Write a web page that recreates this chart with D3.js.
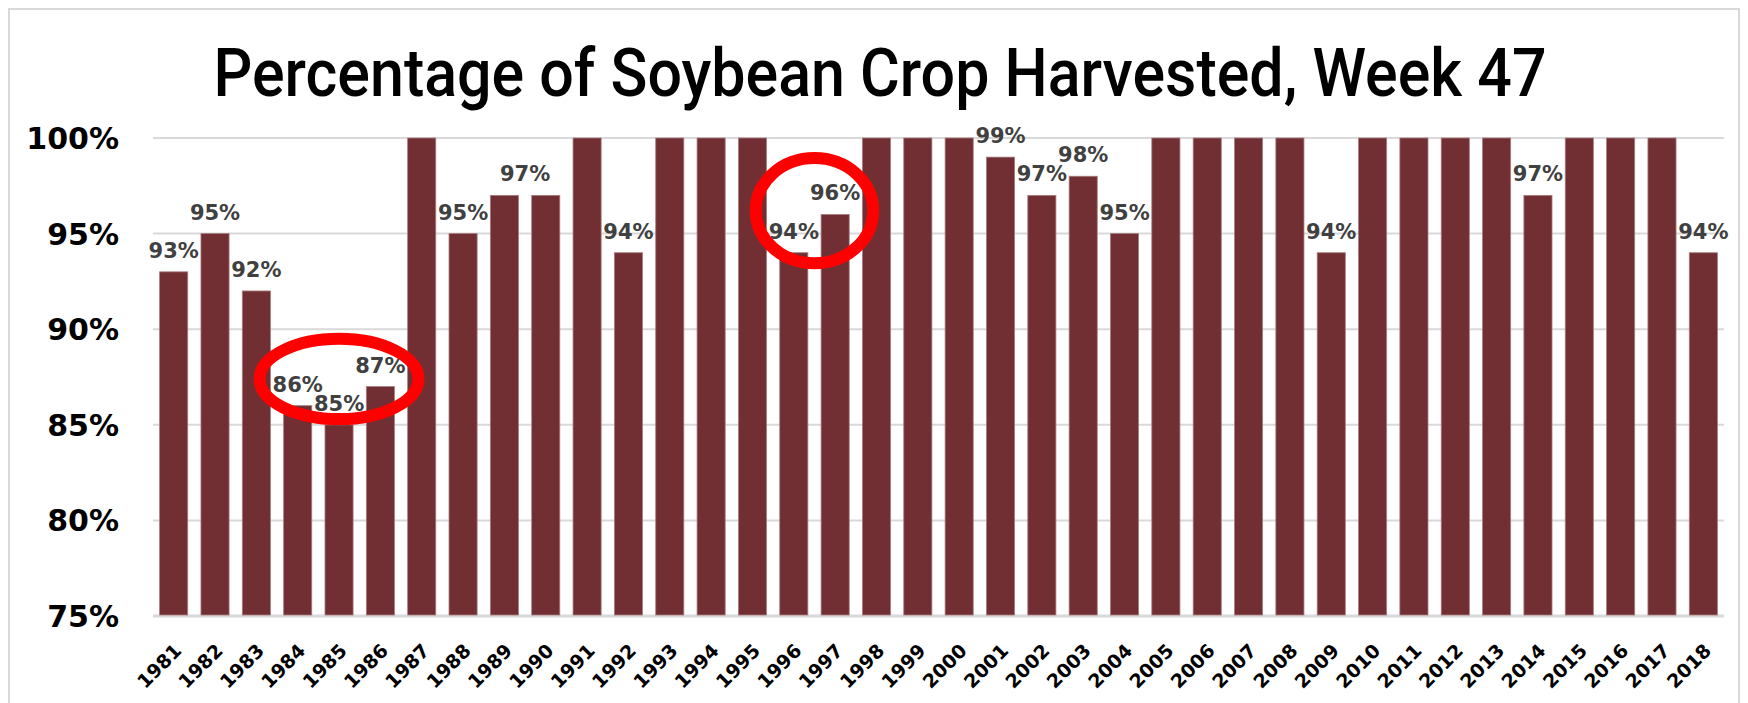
<!DOCTYPE html>
<html>
<head>
<meta charset="utf-8">
<script src="https://cdn.jsdelivr.net/npm/d3@7"></script>
<style>
  html, body { margin: 0; padding: 0; background: #fff; }
  svg { display: block; }
</style>
</head>
<body>
<div id="chart"></div>
<script>
// data
const years = ["1981","1982","1983","1984","1985","1986","1987","1988","1989","1990",
  "1991","1992","1993","1994","1995","1996","1997","1998","1999","2000",
  "2001","2002","2003","2004","2005","2006","2007","2008","2009","2010",
  "2011","2012","2013","2014","2015","2016","2017","2018"];
const harvested = [93,95,92,86,85,87,100,95,97,97,
  100,94,100,100,100,94,96,100,100,100,
  99,97,98,95,100,100,100,100,94,100,
  100,100,100,97,100,100,100,94];
const yTicks = [75,80,85,90,95,100];
const titleText = "Percentage of Soybean Crop Harvested, Week 47";
// red circles drawn round some years
const highlights = [
  { years: ["1984","1985","1986"], center: 87.4, spread: 2.1 },
  { years: ["1996","1997"], center: 96.2, spread: 2.75 }
];

const width = 1748, height = 703;
const margin = { top: 138, right: 24, bottom: 87, left: 153 };
const barColor = "#722f33";

const svg = d3.select("#chart").append("svg")
    .attr("width", width)
    .attr("height", height);

// outer frame
svg.append("rect")
    .attr("x", 9).attr("y", 9)
    .attr("width", width - 18).attr("height", height + 20)
    .attr("fill", "none")
    .attr("stroke", "#d9d9d9")
    .attr("stroke-width", 2);

svg.append("text")
    .attr("x", 880).attr("y", 96)
    .attr("text-anchor", "middle")
    .attr("font-family", "Roboto, 'Liberation Sans', sans-serif")
    .attr("font-weight", 500)
    .attr("font-size", 66)
    .attr("fill", "#000")
    .attr("textLength", 1333)
    .attr("lengthAdjust", "spacingAndGlyphs")
    .text(titleText);

const x = d3.scaleBand()
    .domain(years)
    .range([margin.left, width - margin.right])
    .paddingInner(0.32)
    .paddingOuter(0.16);

const y = d3.scaleLinear()
    .domain([75, 100])
    .range([height - margin.bottom, margin.top]);

// gridlines
svg.append("g").selectAll("line")
    .data(yTicks)
    .join("line")
    .attr("x1", margin.left).attr("x2", width - margin.right)
    .attr("y1", d => y(d)).attr("y2", d => y(d))
    .attr("stroke", "#d9d9d9")
    .attr("stroke-width", d => d === 75 ? 3 : 2);

// y labels
svg.append("g").selectAll("text")
    .data(yTicks)
    .join("text")
    .attr("x", 119)
    .attr("y", d => y(d) + 11)
    .attr("text-anchor", "end")
    .attr("font-family", "'DejaVu Sans', sans-serif")
    .attr("font-weight", "bold")
    .attr("font-size", 30)
    .attr("fill", "#000")
    .text(d => d + "%");

const data = years.map((yr, i) => ({ year: yr, value: harvested[i] }));

svg.append("g").selectAll("rect")
    .data(data)
    .join("rect")
    .attr("x", d => x(d.year))
    .attr("y", d => y(d.value))
    .attr("width", x.bandwidth())
    .attr("height", d => y(75) - y(d.value) - 1)
    .attr("fill", barColor)
    .attr("stroke", "#a87c7e")
    .attr("stroke-width", 0.8);

// value labels (only below 100%), a run of equal values gets one label
const labels = [];
data.forEach((d, i) => {
    if (d.value >= 100) return;
    const last = labels[labels.length - 1];
    if (last && last.value === d.value && last.endIdx === i - 1) {
        last.years.push(d.year);
        last.endIdx = i;
    } else {
        labels.push({ value: d.value, years: [d.year], endIdx: i });
    }
});

svg.append("g").selectAll("text")
    .data(labels)
    .join("text")
    .attr("x", d => (x(d.years[0]) + x(d.years[d.years.length - 1])) / 2 + x.bandwidth() / 2)
    .attr("y", d => y(d.value) - 14)
    .attr("text-anchor", "middle")
    .attr("font-family", "'DejaVu Sans', sans-serif")
    .attr("font-weight", "bold")
    .attr("font-size", 21)
    .attr("fill", "#404040")
    .text(d => d.value + "%");

// x labels rotated
svg.append("g").selectAll("text")
    .data(years)
    .join("text")
    .attr("transform", d => {
        const px = x(d) + x.bandwidth() / 2 + 9;
        const py = y(75) + 36;
        return `translate(${px},${py}) rotate(-45)`;
    })
    .attr("text-anchor", "end")
    .attr("font-family", "'DejaVu Sans', sans-serif")
    .attr("font-weight", "bold")
    .attr("font-size", 19)
    .attr("fill", "#000")
    .text(d => d);

// red ellipses
const span = d => [x(d.years[0]), x(d.years[d.years.length - 1]) + x.bandwidth()];
svg.append("g").selectAll("ellipse")
    .data(highlights)
    .join("ellipse")
    .attr("cx", d => d3.mean(span(d)))
    .attr("cy", d => y(d.center))
    .attr("rx", d => (span(d)[1] - span(d)[0]) / 2 + 24)
    .attr("ry", d => y(d.center - d.spread) - y(d.center))
    .attr("fill", "none")
    .attr("stroke", "#ff0000")
    .attr("stroke-width", 12);
</script>
</body>
</html>
